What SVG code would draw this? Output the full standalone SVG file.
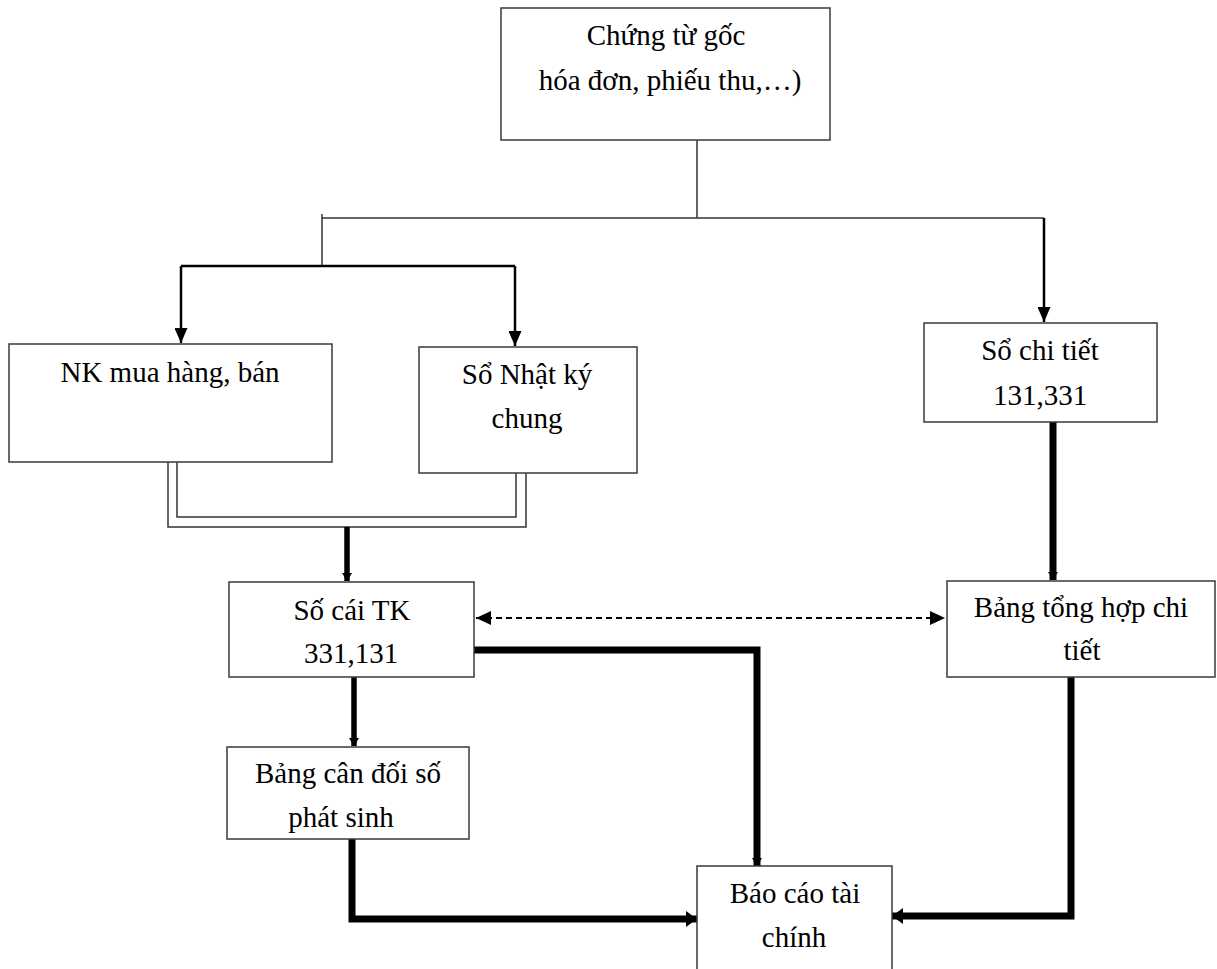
<svg xmlns="http://www.w3.org/2000/svg" width="1217" height="969" viewBox="0 0 1217 969">
<style>
.box{fill:#fff;stroke:#3a3a3a;stroke-width:1.5}
.t{font-family:"Liberation Serif","Times New Roman",serif;font-size:29px;fill:#000;text-anchor:middle}
.thin{fill:none;stroke:#333;stroke-width:1.5}
.arrow{fill:none;stroke:#000;stroke-width:2.5}
.thick{fill:none;stroke:#000;stroke-width:5.5}
.thicker{fill:none;stroke:#000;stroke-width:7}
.dash{fill:none;stroke:#000;stroke-width:2;stroke-dasharray:6,4}
</style>
<defs>
<marker id="arr" markerUnits="userSpaceOnUse" markerWidth="15" markerHeight="13" refX="15" refY="6.5" orient="auto"><path d="M0,0 L15,6.5 L0,13 z" fill="#000"/></marker>
<marker id="arrD" markerUnits="userSpaceOnUse" markerWidth="15" markerHeight="14" refX="15" refY="7" orient="auto-start-reverse"><path d="M0,0 L15,7 L0,14 z" fill="#000"/></marker>
<marker id="arrS" markerUnits="userSpaceOnUse" markerWidth="8" markerHeight="10" refX="8" refY="5" orient="auto"><path d="M0,0 L8,5 L0,10 z" fill="#000"/></marker>
<marker id="arrM" markerUnits="userSpaceOnUse" markerWidth="11" markerHeight="16" refX="11" refY="8" orient="auto"><path d="M0,0 L11,8 L0,16 z" fill="#000"/></marker>
</defs>
<g id="connectors">
<path class="thin" d="M697,140 V218"/>
<path class="thin" d="M322,218 H1044"/>
<path class="thin" d="M322,214 V266"/>
<path class="arrow" d="M181,266 H515"/>
<path class="arrow" d="M181,266 V343" marker-end="url(#arr)"/>
<path class="arrow" d="M515,266 V346" marker-end="url(#arr)"/>
<path class="arrow" d="M1044,218 V322" marker-end="url(#arr)"/>
<path class="thin" d="M168,462 V527 H526 V473"/>
<path class="thin" d="M177,462 V517 H516 V473"/>
<path class="thick" d="M347,527 V581" marker-end="url(#arrS)"/>
<path class="dash" d="M476,618 H945" marker-start="url(#arrD)" marker-end="url(#arrD)"/>
<path class="thicker" d="M474,650 H757 V866" marker-end="url(#arrS)"/>
<path class="thick" d="M354,677 V746" marker-end="url(#arrS)"/>
<path class="thicker" d="M1053,422 V580" marker-end="url(#arrS)"/>
<path class="thicker" d="M352,839 V919 H697" marker-end="url(#arrM)"/>
<path class="thicker" d="M1071,677 V916 H892" marker-end="url(#arrM)"/>
</g>
<g id="n-chungtu">
<rect class="box" x="501" y="8" width="329" height="132"/>
<text class="t" x="666" y="45">Chứng từ gốc</text>
<text class="t" x="670" y="90">hóa đơn, phiếu thu,…)</text>
</g>
<g id="n-nk">
<rect class="box" x="9" y="344" width="323" height="118"/>
<text class="t" x="170" y="382">NK mua hàng, bán</text>
</g>
<g id="n-nkc">
<rect class="box" x="419" y="347" width="218" height="126"/>
<text class="t" x="527" y="384">Sổ Nhật ký</text>
<text class="t" x="527" y="428">chung</text>
</g>
<g id="n-chitiet">
<rect class="box" x="924" y="323" width="233" height="99"/>
<text class="t" x="1040" y="360">Sổ chi tiết</text>
<text class="t" x="1040" y="405">131,331</text>
</g>
<g id="n-socai">
<rect class="box" x="229" y="582" width="245" height="95"/>
<text class="t" x="352" y="620">Số cái TK</text>
<text class="t" x="351" y="663">331,131</text>
</g>
<g id="n-tonghop">
<rect class="box" x="947" y="581" width="268" height="96"/>
<text class="t" x="1081" y="617">Bảng tổng hợp chi</text>
<text class="t" x="1082" y="660">tiết</text>
</g>
<g id="n-candoi">
<rect class="box" x="227" y="747" width="242" height="92"/>
<text class="t" x="348" y="783">Bảng cân đối số</text>
<text class="t" x="341" y="827">phát sinh</text>
</g>
<g id="n-baocao">
<rect class="box" x="697" y="866" width="195" height="115"/>
<text class="t" x="795" y="903">Báo cáo tài</text>
<text class="t" x="794" y="947">chính</text>
</g>
</svg>
